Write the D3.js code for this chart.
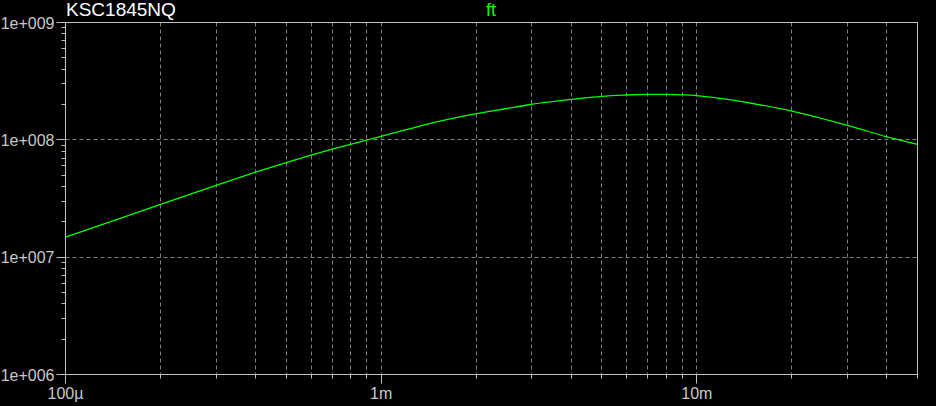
<!DOCTYPE html>
<html>
<head>
<meta charset="utf-8">
<script src="https://cdn.jsdelivr.net/npm/d3@7"></script>
<style>
html,body{margin:0;padding:0;background:#000;}
svg{display:block;}
</style>
</head>
<body>
<svg id="chart" width="936" height="406"></svg>
<script>
// ---- data ----
const title = "KSC1845NQ";
const seriesName = "ft";
const ic = [1e-4, 2e-4, 3e-4, 4e-4, 5e-4, 6e-4, 7e-4, 8e-4, 9e-4, 1e-3, 1.5e-3, 2e-3, 2.5e-3, 3e-3, 4e-3, 5e-3, 6e-3, 7e-3, 8e-3, 9e-3, 1e-2, 1.25e-2, 1.5e-2, 2e-2, 3e-2, 4e-2, 5e-2];
const ft = [1.48e7, 2.82e7, 4.10e7, 5.30e7, 6.40e7, 7.40e7, 8.32e7, 9.15e7, 9.95e7, 1.07e8, 1.42e8, 1.67e8, 1.85e8, 2.01e8, 2.21e8, 2.35e8, 2.41e8, 2.44e8, 2.44e8, 2.42e8, 2.38e8, 2.21e8, 2.04e8, 1.76e8, 1.33e8, 1.06e8, 9.15e7];
const xTickValues = [1e-4, 1e-3, 1e-2];
const xTickLabels = ["100µ", "1m", "10m"];
const yTickValues = [1e6, 1e7, 1e8, 1e9];
const yTickLabels = ["1e+006", "1e+007", "1e+008", "1e+009"];

// ---- layout ----
const svg = d3.select("#chart");
svg.append("rect").attr("width", 936).attr("height", 406).attr("fill", "#000");
const L = 65.5, R = 917.5, T = 22.5, B = 374.5;
const x = d3.scaleLog().domain([1e-4, 5e-2]).range([L, R]);
const y = d3.scaleLog().domain([1e6, 1e9]).range([B, T]);
const axisColor = "#c0c0c0", gridColor = "#808080";
const px = v => Math.round(v - 0.5) + 0.5;

// minor x values
const xMinor = [];
for (let d = 1e-4; d < 1e-1; d *= 10) {
  for (let m = 1; m <= 9; m++) {
    const v = d * m;
    if (v > 1e-4 * 1.0001 && v < 5e-2 * 0.9999) xMinor.push(v);
  }
}
const yMinor = [];
for (let d = 1e6; d < 1e9; d *= 10) {
  for (let m = 2; m <= 9; m++) yMinor.push(d * m);
}

// grid
const grid = svg.append("g").attr("stroke", gridColor).attr("stroke-width", 1).attr("stroke-dasharray", "4,3");
grid.selectAll("line.vx").data(xMinor).join("line")
  .attr("x1", d => px(x(d))).attr("x2", d => px(x(d)))
  .attr("y1", T).attr("y2", B);
grid.selectAll("line.hy").data(yTickValues.filter(v => v > 1e6 && v < 1e9)).join("line")
  .attr("y1", d => px(y(d))).attr("y2", d => px(y(d)))
  .attr("x1", L).attr("x2", R);

// frame
const frame = svg.append("g").attr("stroke", axisColor).attr("stroke-width", 1).attr("fill", "none");
frame.append("rect").attr("x", L).attr("y", T).attr("width", R - L).attr("height", B - T);

// x ticks
frame.selectAll("line.xt").data(xMinor.concat([5e-2])).join("line")
  .attr("x1", d => px(x(d))).attr("x2", d => px(x(d)))
  .attr("y1", B).attr("y2", B + 4);
frame.selectAll("line.xT").data(xTickValues).join("line")
  .attr("x1", d => px(x(d))).attr("x2", d => px(x(d)))
  .attr("y1", B).attr("y2", B + 9);
// y ticks
frame.selectAll("line.yt").data(yMinor).join("line")
  .attr("y1", d => px(y(d))).attr("y2", d => px(y(d)))
  .attr("x1", L - 4).attr("x2", L);
frame.selectAll("line.yT").data(yTickValues).join("line")
  .attr("y1", d => px(y(d))).attr("y2", d => px(y(d)))
  .attr("x1", L - 9).attr("x2", L);

// labels
const font = "'Liberation Sans', Arial, sans-serif";
svg.append("g").selectAll("text").data(xTickValues).join("text")
  .attr("x", d => x(d)).attr("y", 399)
  .attr("text-anchor", "middle")
  .attr("font-family", font).attr("font-size", 16).attr("fill", "#c8c8c8")
  .text((d, i) => xTickLabels[i]);
svg.append("g").selectAll("text").data(yTickValues).join("text")
  .attr("x", 54.5).attr("y", d => y(d) + 6)
  .attr("text-anchor", "end")
  .attr("font-family", font).attr("font-size", 16).attr("fill", "#c8c8c8")
  .text((d, i) => yTickLabels[i]);

svg.append("text").attr("x", 66).attr("y", 16)
  .attr("font-family", font).attr("font-size", 19).attr("fill", "#ffffff")
  .text(title);
svg.append("text").attr("x", 491).attr("y", 16).attr("text-anchor", "middle")
  .attr("font-family", font).attr("font-size", 18).attr("fill", "#00ff00")
  .text(seriesName);

// curve
const line = d3.line().x((d, i) => x(ic[i])).y(d => y(d)).curve(d3.curveCatmullRom);
svg.append("path").datum(ft)
  .attr("d", line)
  .attr("fill", "none").attr("stroke", "#00ff00").attr("stroke-width", 1.3);
</script>
</body>
</html>
